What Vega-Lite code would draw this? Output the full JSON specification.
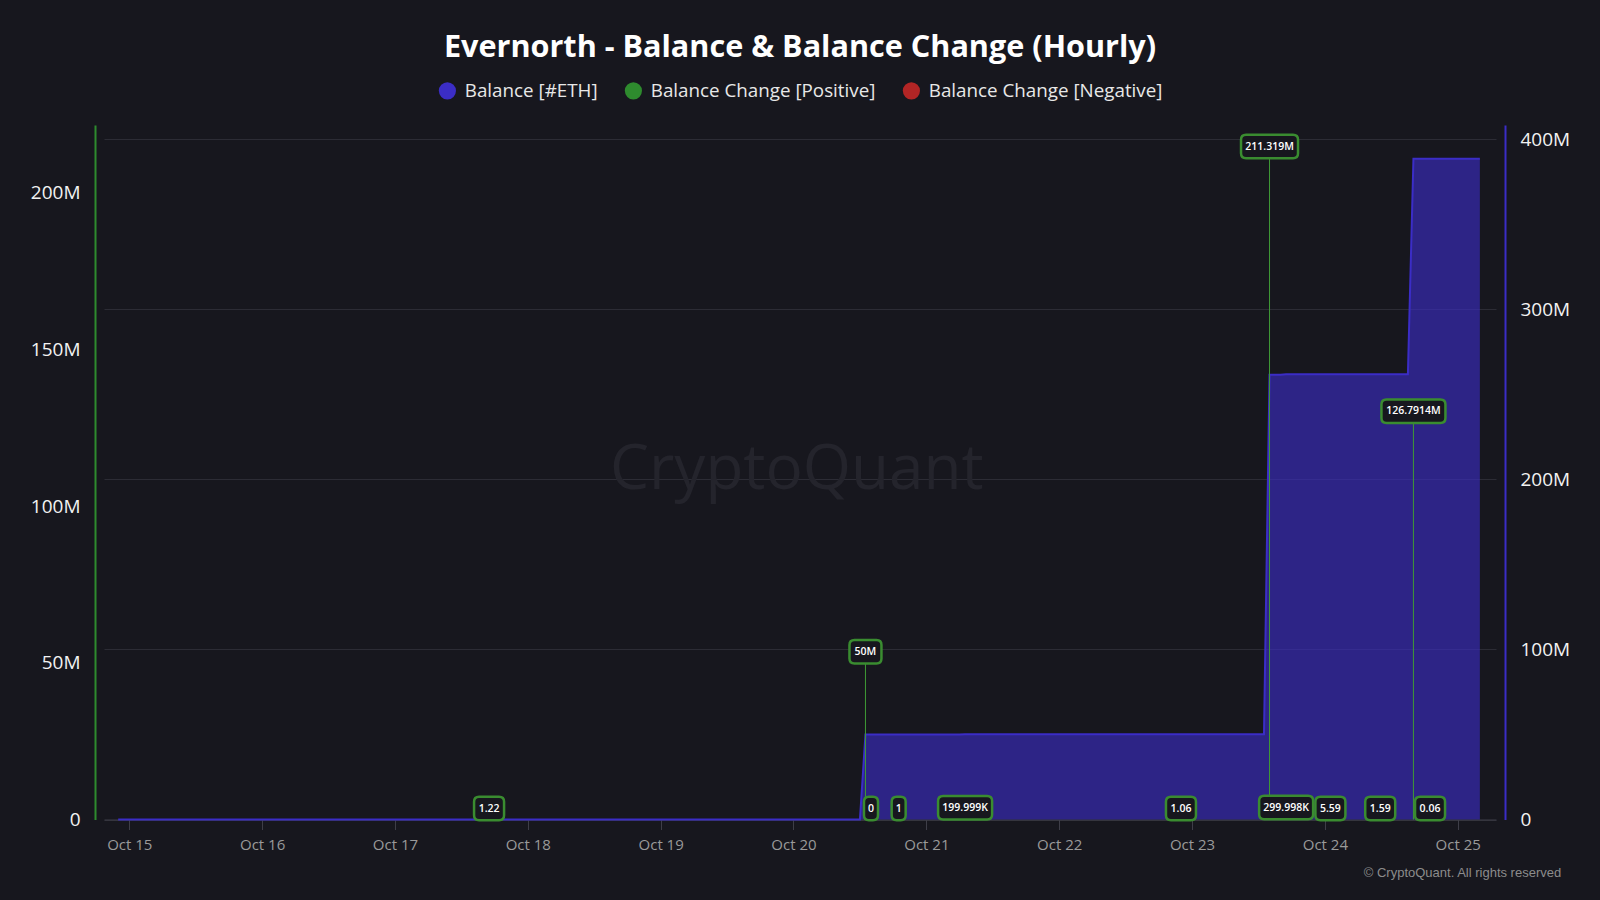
{
  "$schema": "https://vega.github.io/schema/vega-lite/v6.json",
  "width": 1392,
  "height": 694.5,
  "autosize": {"type": "none"},
  "padding": {"left": 104, "top": 125, "right": 104, "bottom": 80.5},
  "background": "#17171e",
  "config": {
    "view": {"stroke": null},
    "font": "Open Sans",
    "title": {"font": "Open Sans"}
  },
  "title": {
    "text": "Evernorth - Balance & Balance Change (Hourly)",
    "fontSize": 30.6,
    "fontWeight": "bold",
    "color": "#ffffff",
    "anchor": "middle",
    "offset": 17
  },
  "datasets": {
    "balance": [
      {"t": "2025-10-14T22:00:00Z", "balance": 1},
      {"t": "2025-10-17T16:00:00Z", "balance": 1},
      {"t": "2025-10-17T17:00:00Z", "balance": 2.22},
      {"t": "2025-10-20T12:00:00Z", "balance": 2.22},
      {"t": "2025-10-20T13:00:00Z", "balance": 50000002.22},
      {"t": "2025-10-20T19:00:00Z", "balance": 50000003.22},
      {"t": "2025-10-21T06:00:00Z", "balance": 50000003.22},
      {"t": "2025-10-21T07:00:00Z", "balance": 50200002.22},
      {"t": "2025-10-22T22:00:00Z", "balance": 50200003.28},
      {"t": "2025-10-23T13:00:00Z", "balance": 50200003.28},
      {"t": "2025-10-23T14:00:00Z", "balance": 261519003.28},
      {"t": "2025-10-23T16:00:00Z", "balance": 261519003.28},
      {"t": "2025-10-23T17:00:00Z", "balance": 261819001.28},
      {"t": "2025-10-24T01:00:00Z", "balance": 261819006.87},
      {"t": "2025-10-24T10:00:00Z", "balance": 261819008.46},
      {"t": "2025-10-24T15:00:00Z", "balance": 261819008.46},
      {"t": "2025-10-24T16:00:00Z", "balance": 388610408.46},
      {"t": "2025-10-24T19:00:00Z", "balance": 388610408.52},
      {"t": "2025-10-25T04:00:00Z", "balance": 388610408.52}
    ],
    "changes": [
      {"t": "2025-10-17T17:00:00Z", "change": 1.22, "label": "1.22"},
      {"t": "2025-10-20T13:00:00Z", "change": 50000000, "label": "50M"},
      {"t": "2025-10-20T14:00:00Z", "change": 0, "label": "0"},
      {"t": "2025-10-20T19:00:00Z", "change": 1, "label": "1"},
      {"t": "2025-10-21T07:00:00Z", "change": 199999, "label": "199.999K"},
      {"t": "2025-10-22T22:00:00Z", "change": 1.06, "label": "1.06"},
      {"t": "2025-10-23T14:00:00Z", "change": 211319000, "label": "211.319M"},
      {"t": "2025-10-23T17:00:00Z", "change": 299998, "label": "299.998K"},
      {"t": "2025-10-24T01:00:00Z", "change": 5.59, "label": "5.59"},
      {"t": "2025-10-24T10:00:00Z", "change": 1.59, "label": "1.59"},
      {"t": "2025-10-24T16:00:00Z", "change": 126791400, "label": "126.7914M"},
      {"t": "2025-10-24T19:00:00Z", "change": 0.06, "label": "0.06"}
    ],
    "mark": [
      {"t": "2025-10-20T00:35:00Z", "name": "CryptoQuant"}
    ]
  },
  "encoding": {
    "x": {
      "field": "t",
      "type": "temporal",
      "title": "© CryptoQuant. All rights reserved",
      "scale": {
        "type": "utc",
        "domain": [
          {"year": 2025, "month": 10, "date": 14, "hours": 19, "minutes": 26, "utc": true},
          {"year": 2025, "month": 10, "date": 25, "hours": 6, "minutes": 55, "utc": true}
        ]
      },
      "axis": {
        "values": [
          {"year": 2025, "month": 10, "date": 15, "utc": true},
          {"year": 2025, "month": 10, "date": 16, "utc": true},
          {"year": 2025, "month": 10, "date": 17, "utc": true},
          {"year": 2025, "month": 10, "date": 18, "utc": true},
          {"year": 2025, "month": 10, "date": 19, "utc": true},
          {"year": 2025, "month": 10, "date": 20, "utc": true},
          {"year": 2025, "month": 10, "date": 21, "utc": true},
          {"year": 2025, "month": 10, "date": 22, "utc": true},
          {"year": 2025, "month": 10, "date": 23, "utc": true},
          {"year": 2025, "month": 10, "date": 24, "utc": true},
          {"year": 2025, "month": 10, "date": 25, "utc": true}
        ],
        "format": "%b %d",
        "formatType": "utc",
        "labelExpr": "utcFormat(datum.value, '%b %d')",
        "grid": false,
        "domainColor": "#3e3e48",
        "domainWidth": 1,
        "tickColor": "#3e3e48",
        "tickSize": 10,
        "labelColor": "#9a9a9a",
        "labelFont": "Open Sans",
        "labelFontSize": 15,
        "labelPadding": 8,
        "labelFlush": false,
        "titleFont": "Liberation Sans",
        "titleFontSize": 13,
        "titleFontWeight": "normal",
        "titleColor": "#8c8c8c",
        "titleAnchor": "end",
        "titleAlign": "right",
        "titleBaseline": "middle",
        "titleX": 1456.7,
        "titleY": 52.8
      }
    }
  },
  "layer": [
    {
      "data": {"name": "mark"},
      "mark": {
        "type": "text",
        "font": "Open Sans",
        "fontSize": 62,
        "color": "#24242c",
        "align": "center",
        "baseline": "middle"
      },
      "encoding": {
        "text": {"field": "name", "type": "nominal"},
        "y": {
          "datum": 205500000,
          "type": "quantitative",
          "title": null,
          "scale": {"domain": [0, 408400000], "nice": false, "zero": true},
          "axis": null
        }
      }
    },
    {
      "data": {"name": "balance"},
      "mark": {
        "type": "area",
        "interpolate": "linear",
        "fillOpacity": 0.62,
        "line": {"color": "#3b2dc6", "strokeWidth": 2}
      },
      "encoding": {
        "y": {
          "field": "balance",
          "type": "quantitative",
          "title": null,
          "scale": {"domain": [0, 408400000], "nice": false, "zero": true},
          "axis": {
            "orient": "right",
            "offset": 9,
            "values": [0, 100000000, 200000000, 300000000, 400000000],
            "labelExpr": "datum.value == 0 ? '0' : format(datum.value / 1000000, 'd') + 'M'",
            "domainColor": "#3b2dc6",
            "domainWidth": 2,
            "ticks": false,
            "tickSize": 0,
            "labelPadding": 15,
            "labelColor": "#f2f2f2",
            "labelFont": "Open Sans",
            "labelFontSize": 19,
            "grid": true,
            "gridColor": "#2c2c35",
            "gridWidth": 1
          }
        },
        "color": {
          "datum": "Balance [#ETH]",
          "type": "nominal",
          "scale": {
            "domain": ["Balance [#ETH]", "Balance Change [Positive]", "Balance Change [Negative]"],
            "range": ["#3b2dc6", "#2e8b2e", "#b22525"]
          },
          "legend": {
            "title": null,
            "orient": "none",
            "legendX": 334,
            "legendY": -44,
            "direction": "horizontal",
            "symbolType": "circle",
            "symbolSize": 296,
            "symbolOpacity": 1,
            "symbolStrokeWidth": 0,
            "labelFont": "Open Sans",
            "labelFontSize": 18.8,
            "labelColor": "#e8e8e8",
            "labelLimit": 500,
            "labelOffset": 8,
            "columnPadding": 26,
            "padding": 0
          }
        }
      }
    },
    {
      "data": {"name": "changes"},
      "layer": [
        {
          "mark": {"type": "rule", "color": "#3f9a36", "strokeWidth": 1},
          "encoding": {
            "y": {
              "field": "change",
              "type": "quantitative",
              "title": null,
              "scale": {"domain": [0, 221700000], "nice": false, "zero": true},
              "axis": {
                "orient": "left",
                "offset": 9,
                "values": [0, 50000000, 100000000, 150000000, 200000000],
                "labelExpr": "datum.value == 0 ? '0' : format(datum.value / 1000000, 'd') + 'M'",
                "domainColor": "#2e8b2e",
                "domainWidth": 2,
                "ticks": false,
                "tickSize": 0,
                "labelPadding": 15,
                "labelColor": "#f2f2f2",
                "labelFont": "Open Sans",
                "labelFontSize": 19,
                "grid": false
              }
            },
            "y2": {"datum": 0}
          }
        },
        {
          "mark": {
            "type": "point",
            "filled": true,
            "fill": "#17171e",
            "stroke": "#3a8c30",
            "strokeWidth": 2.5,
            "size": 4,
            "opacity": 1,
            "fillOpacity": 1,
            "strokeOpacity": 1,
            "yOffset": -11
          },
          "encoding": {
            "y": {"field": "change", "type": "quantitative", "title": null},
            "shape": {
              "field": "label",
              "type": "nominal",
              "legend": null,
              "scale": {
                "domain": ["1.22", "50M", "0", "1", "199.999K", "1.06", "211.319M", "299.998K", "5.59", "1.59", "126.7914M", "0.06"],
                "range": [
                  "M-10,-11.75H10Q15,-11.75 15,-6.75V6.75Q15,11.75 10,11.75H-10Q-15,11.75 -15,6.75V-6.75Q-15,-11.75 -10,-11.75Z",
                  "M-11,-11.75H11Q16,-11.75 16,-6.75V6.75Q16,11.75 11,11.75H-11Q-16,11.75 -16,6.75V-6.75Q-16,-11.75 -11,-11.75Z",
                  "M-2,-11.75H2Q7,-11.75 7,-6.75V6.75Q7,11.75 2,11.75H-2Q-7,11.75 -7,6.75V-6.75Q-7,-11.75 -2,-11.75Z",
                  "M-2,-11.75H2Q7,-11.75 7,-6.75V6.75Q7,11.75 2,11.75H-2Q-7,11.75 -7,6.75V-6.75Q-7,-11.75 -2,-11.75Z",
                  "M-22,-11.75H22Q27,-11.75 27,-6.75V6.75Q27,11.75 22,11.75H-22Q-27,11.75 -27,6.75V-6.75Q-27,-11.75 -22,-11.75Z",
                  "M-10,-11.75H10Q15,-11.75 15,-6.75V6.75Q15,11.75 10,11.75H-10Q-15,11.75 -15,6.75V-6.75Q-15,-11.75 -10,-11.75Z",
                  "M-23.5,-11.75H23.5Q28.5,-11.75 28.5,-6.75V6.75Q28.5,11.75 23.5,11.75H-23.5Q-28.5,11.75 -28.5,6.75V-6.75Q-28.5,-11.75 -23.5,-11.75Z",
                  "M-22,-11.75H22Q27,-11.75 27,-6.75V6.75Q27,11.75 22,11.75H-22Q-27,11.75 -27,6.75V-6.75Q-27,-11.75 -22,-11.75Z",
                  "M-10,-11.75H10Q15,-11.75 15,-6.75V6.75Q15,11.75 10,11.75H-10Q-15,11.75 -15,6.75V-6.75Q-15,-11.75 -10,-11.75Z",
                  "M-10,-11.75H10Q15,-11.75 15,-6.75V6.75Q15,11.75 10,11.75H-10Q-15,11.75 -15,6.75V-6.75Q-15,-11.75 -10,-11.75Z",
                  "M-27,-11.75H27Q32,-11.75 32,-6.75V6.75Q32,11.75 27,11.75H-27Q-32,11.75 -32,6.75V-6.75Q-32,-11.75 -27,-11.75Z",
                  "M-10,-11.75H10Q15,-11.75 15,-6.75V6.75Q15,11.75 10,11.75H-10Q-15,11.75 -15,6.75V-6.75Q-15,-11.75 -10,-11.75Z"
                ]
              }
            }
          }
        },
        {
          "mark": {
            "type": "text",
            "font": "Open Sans",
            "fontSize": 10.5,
            "fontWeight": 600,
            "color": "#ffffff",
            "align": "center",
            "baseline": "middle",
            "yOffset": -11
          },
          "encoding": {
            "y": {"field": "change", "type": "quantitative", "title": null},
            "text": {"field": "label", "type": "nominal"}
          }
        }
      ]
    }
  ],
  "resolve": {"scale": {"y": "independent"}}
}
